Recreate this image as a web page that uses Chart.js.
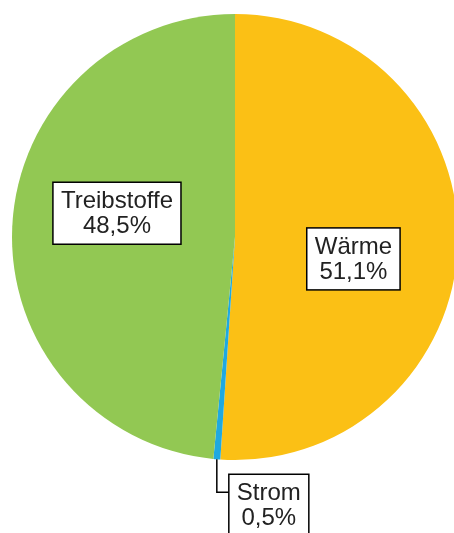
<!DOCTYPE html>
<html>
<head>
<meta charset="utf-8">
<script src="https://cdn.jsdelivr.net/npm/chart.js@4.4.1/dist/chart.umd.min.js"></script>
<style>
  html, body { margin: 0; padding: 0; background: #fff; overflow: hidden; }
  #wrap { width: 470px; height: 533px; }
</style>
</head>
<body>
<div id="wrap"><canvas id="myChart" width="470" height="533"></canvas></div>
<script>
const categories = ["Wärme", "Strom", "Treibstoffe"];
const shares = [51.1, 0.5, 48.5];
const shareLabels = ["51,1%", "0,5%", "48,5%"];
const sliceColors = ["#FBC015", "#1FA9E1", "#92C853"];

const FONT = '24px "Liberation Sans", Arial, sans-serif';
const LINE_H = 25;

function drawBox(ctx, lines, cx, cy, left) {
    ctx.font = FONT;
    let w = 0;
    lines.forEach(function (l) { w = Math.max(w, ctx.measureText(l).width); });
    const bw = w + 16;
    const bh = lines.length * LINE_H + 12;
    const x = left !== undefined ? left : cx - bw / 2;
    const y = cy - bh / 2;
    ctx.fillStyle = "#fff";
    ctx.fillRect(x, y, bw, bh);
    ctx.strokeStyle = "#000";
    ctx.lineWidth = 1.5;
    ctx.strokeRect(x, y, bw, bh);
    ctx.fillStyle = "#222";
    ctx.textAlign = "center";
    ctx.textBaseline = "middle";
    lines.forEach(function (l, i) {
        ctx.fillText(l, x + bw / 2, y + 6 + LINE_H * (i + 0.5) + 1);
    });
    return { x: x, y: y, w: bw, h: bh };
}

const labelPlugin = {
    id: "boxLabels",
    afterDatasetsDraw(chart) {
        const ctx = chart.ctx;
        const arcs = chart.getDatasetMeta(0).data;
        ctx.save();
        arcs.forEach(function (arc, i) {
            const mid = (arc.startAngle + arc.endAngle) / 2;
            const r = arc.outerRadius;
            const lines = [categories[i], shareLabels[i]];
            if (shares[i] < 5) {
                // small slice: label outside, with leader line
                const px = arc.x + Math.cos(mid) * r;
                const py = arc.y + Math.sin(mid) * r;
                const ly = py + 33;
                ctx.strokeStyle = "#000";
                ctx.lineWidth = 1.5;
                ctx.beginPath();
                ctx.moveTo(px, py);
                ctx.lineTo(px, ly);
                ctx.lineTo(px + 12, ly);
                ctx.stroke();
                drawBox(ctx, lines, 0, ly + 13, px + 12);
            } else {
                const a = mid + 0.15;
                const cx = arc.x + Math.cos(a) * r * 0.54;
                const cy = arc.y + Math.sin(a) * r * 0.54;
                drawBox(ctx, lines, cx, cy);
            }
        });
        ctx.restore();
    }
};

const ctx = document.getElementById("myChart").getContext("2d");
new Chart(ctx, {
    type: "pie",
    data: {
        labels: categories,
        datasets: [{
            data: shares,
            backgroundColor: sliceColors,
            borderWidth: 0
        }]
    },
    options: {
        responsive: false,
        animation: false,
        layout: { padding: { left: 12, right: 12, top: 14, bottom: 73 } },
        plugins: {
            legend: { display: false },
            tooltip: { enabled: false }
        }
    },
    plugins: [labelPlugin]
});
</script>
</body>
</html>
